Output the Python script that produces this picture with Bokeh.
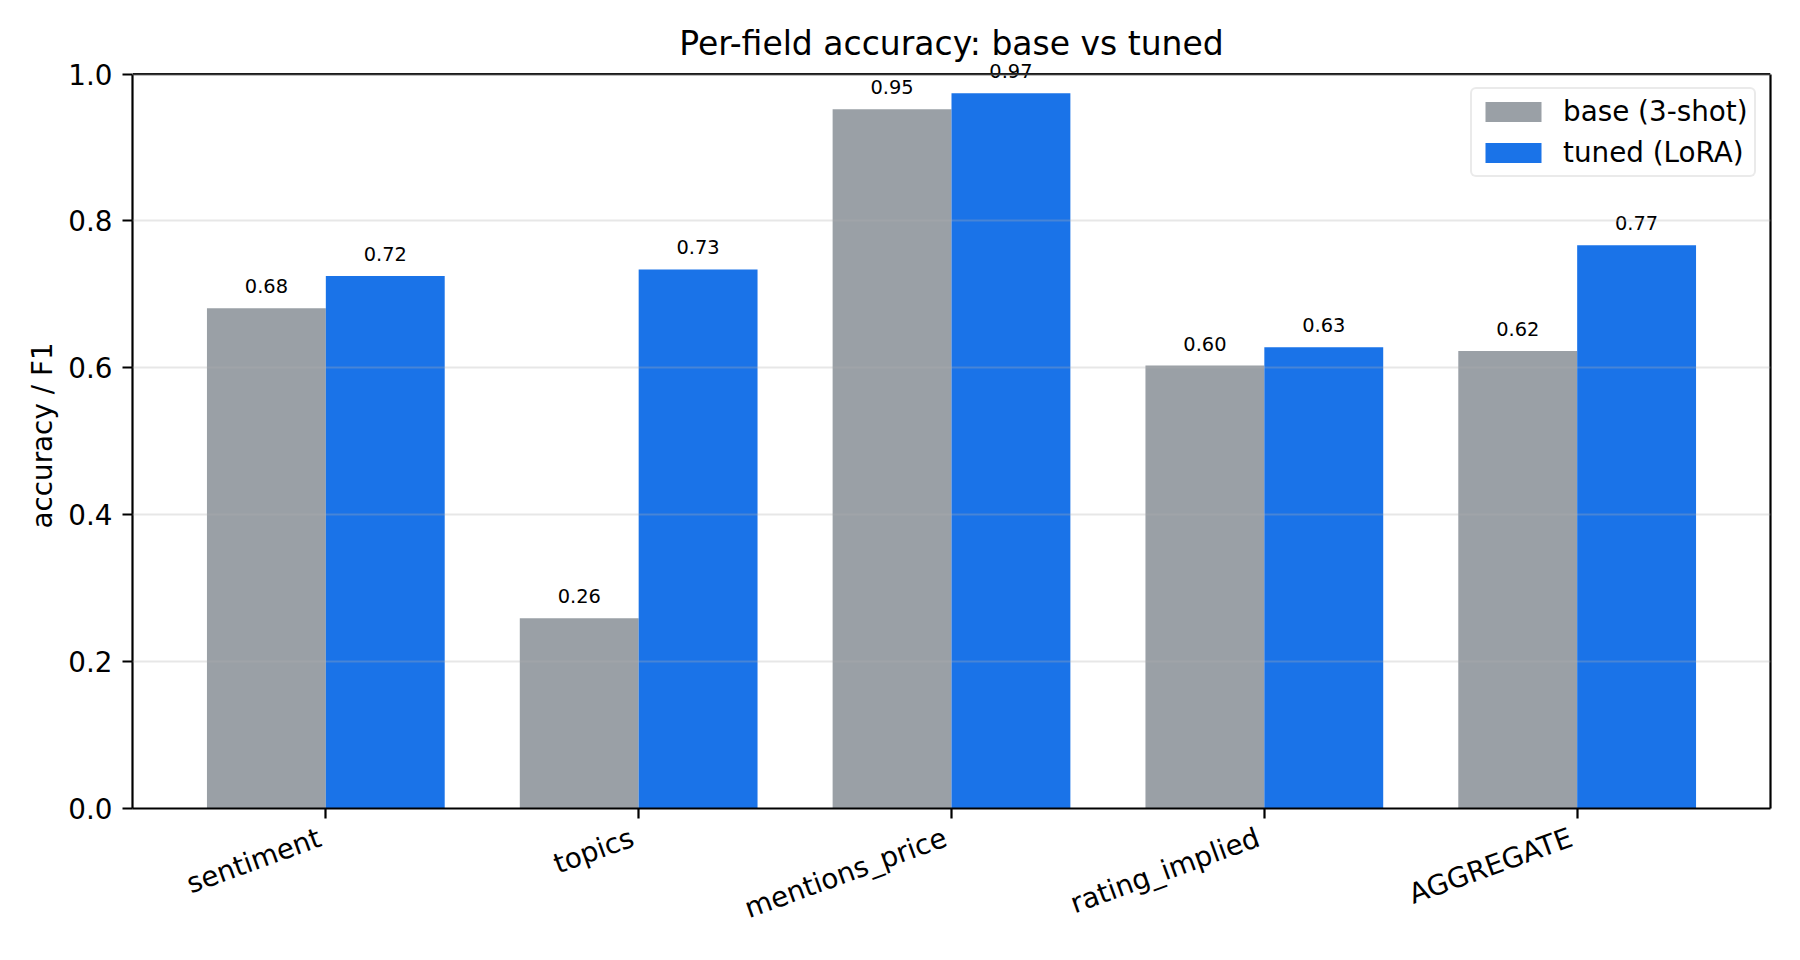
import math
from bokeh.plotting import figure
from bokeh.models import (ColumnDataSource, Range1d, FixedTicker, Label, Legend, LegendItem,
                          LinearAxis, Span, CustomJSTickFormatter)
from bokeh.transform import dodge
from bokeh.embed import file_html
from bokeh.resources import INLINE

fields = ["sentiment", "topics", "mentions_price", "rating_implied", "AGGREGATE"]
base_vals = [0.681, 0.259, 0.952, 0.603, 0.623]
tuned_vals = [0.725, 0.734, 0.974, 0.628, 0.767]
series_names = ["base (3-shot)", "tuned (LoRA)"]
y_ticks = [0.0, 0.2, 0.4, 0.6, 0.8, 1.0]

FONT = "DejaVu Sans"
GRAY = "#9aa0a6"
BLUE = "#1a73e8"
BAR_W = 0.38
Y_MAX = 1.0
# a little headroom above the visible box so the tallest value label is not clipped
Y_HEADROOM = 0.0157

X_START, X_END = -0.618, len(fields) - 1 + 0.618
FRAME_W = 1638
# rotated category labels: nudge so their lower-right end sits under the tick
LABEL_NUDGE = 6 * (X_END - X_START) / FRAME_W

idx = list(range(len(fields)))
src = ColumnDataSource(dict(idx=idx, base=base_vals, tuned=tuned_vals))

p = figure(width=1784, height=944, output_backend="svg", toolbar_location=None,
           x_range=Range1d(X_START, X_END),
           y_range=Range1d(0, Y_MAX + Y_HEADROOM),
           min_border_left=132, min_border_right=14, min_border_top=62, min_border_bottom=136,
           title="Per-field accuracy: base vs tuned")

r_base = p.vbar(x=dodge("idx", -BAR_W / 2), top="base", width=BAR_W, source=src,
                fill_color=GRAY, line_color=None)
r_tuned = p.vbar(x=dodge("idx", BAR_W / 2), top="tuned", width=BAR_W, source=src,
                 fill_color=BLUE, line_color=None)

# title
p.title.text_font = FONT
p.title.text_font_size = "33px"
p.title.text_font_style = "normal"
p.title.align = "center"
p.title.text_color = "black"
p.title.standoff = 0

# frame: drawn from axes bounded at [0, 1] plus a top line
p.outline_line_color = None

# grid
p.xgrid.visible = False
p.ygrid.ticker = FixedTicker(ticks=y_ticks)
p.ygrid.grid_line_color = "#b0b0b0"
p.ygrid.grid_line_alpha = 0.3
p.ygrid.grid_line_width = 2.2
p.ygrid.level = "overlay"

p.add_layout(Span(location=Y_MAX, dimension="width", line_color="black", line_width=2.2))

right_ax = LinearAxis(ticker=FixedTicker(ticks=[]), bounds=(0, Y_MAX),
                      major_tick_out=0, major_tick_in=0, minor_tick_out=0, minor_tick_in=0,
                      major_label_standoff=0, axis_line_color="black", axis_line_width=2.2,
                      major_label_text_font_size="0px", major_label_text_color=None)
p.add_layout(right_ax, "right")

# axes
for ax in (p.xaxis[0], p.yaxis[0]):
    ax.axis_line_color = "black"
    ax.axis_line_width = 2.2
    ax.major_tick_line_color = "black"
    ax.major_tick_line_width = 2.2
    ax.major_tick_out = 10
    ax.major_tick_in = 0
    ax.minor_tick_line_color = None
    ax.major_label_text_font = FONT
    ax.major_label_text_font_size = "27.8px"
    ax.major_label_text_color = "black"
    ax.major_label_standoff = 10
    ax.axis_label_text_font = FONT
    ax.axis_label_text_font_size = "27.8px"
    ax.axis_label_text_font_style = "normal"
    ax.axis_label_text_color = "black"

# x axis: tick marks on the main axis, rotated category names on a second, tick-less axis
xax = p.xaxis[0]
xax.ticker = FixedTicker(ticks=idx)
xax.major_label_text_font_size = "0px"
xax.major_label_text_color = None
xax.major_label_standoff = 0

label_ax = LinearAxis(ticker=FixedTicker(ticks=[i - LABEL_NUDGE for i in idx]),
                      formatter=CustomJSTickFormatter(args=dict(labels=fields),
                                                      code="return labels[index];"),
                      axis_line_color=None, major_tick_line_color=None,
                      minor_tick_line_color=None, major_tick_out=0, major_tick_in=0,
                      minor_tick_out=0, minor_tick_in=0,
                      major_label_standoff=18,
                      major_label_orientation=math.radians(20),
                      major_label_text_font=FONT, major_label_text_font_size="27.8px",
                      major_label_text_color="black")
p.add_layout(label_ax, "below")

yax = p.yaxis[0]
yax.ticker = FixedTicker(ticks=y_ticks)
yax.bounds = (0, Y_MAX)
yax.major_label_overrides = {t: f"{t:.1f}" for t in y_ticks}
yax.axis_label = "accuracy / F1"
yax.axis_label_standoff = 6

# value labels above bars
for vals, off in ((base_vals, -BAR_W / 2), (tuned_vals, BAR_W / 2)):
    for i, v in zip(idx, vals):
        p.add_layout(Label(x=i + off, y=v, text=f"{v:.2f}",
                           text_align="center", text_baseline="alphabetic", y_offset=22,
                           text_font=FONT, text_font_size="19.4px", text_color="black"))

legend = Legend(items=[LegendItem(label=series_names[0], renderers=[r_base]),
                       LegendItem(label=series_names[1], renderers=[r_tuned])],
                location=(1338, 631))
legend.padding = 6
legend.glyph_width = 70
legend.glyph_height = 25
legend.label_standoff = 15
legend.spacing = 8
legend.label_text_font = FONT
legend.label_text_font_size = "27.8px"
legend.label_text_color = "black"
legend.border_line_color = "#d6d6d6"
legend.border_line_width = 2.8
legend.background_fill_alpha = 0.8
if "border_radius" in Legend.properties():
    legend.border_radius = 6
p.add_layout(legend)

open("out.html", "w").write(file_html(p, INLINE))
